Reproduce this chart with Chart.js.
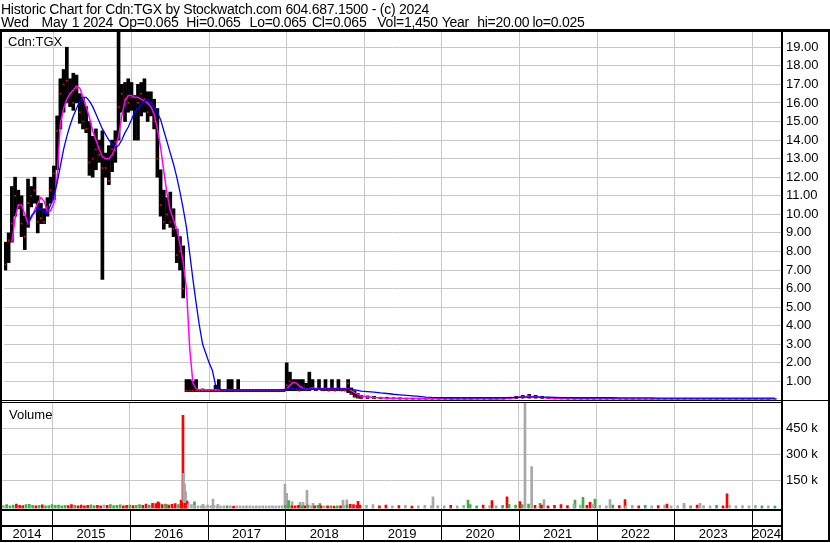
<!DOCTYPE html>
<html>
<head>
<meta charset="utf-8">
<script src="https://cdn.jsdelivr.net/npm/chart.js@4.4.1/dist/chart.umd.min.js"></script>
<style>
  body { margin: 0; background: #fff; }
  #wrap { position: relative; width: 830px; height: 543px; overflow: hidden; font-family: 'Liberation Sans', Arial, sans-serif; }
  canvas { position: absolute; left: 0; top: 0; }
  .txt { position: absolute; white-space: pre; color: #000; }
  .hdr { font-size: 14px; line-height: 16px; letter-spacing: -0.25px; }
  .hdr span { position: absolute; top: 0; }
  .lbl { font-size: 13px; line-height: 15px; }
</style>
</head>
<body>
<div id="wrap">
  <canvas id="priceChart" width="830" height="543"></canvas>
  <canvas id="volChart" width="830" height="543"></canvas>
  <div class="txt hdr" style="top:1px; left:1px">Historic Chart for Cdn:TGX by Stockwatch.com 604.687.1500 - (c) 2024</div>
  <div class="txt hdr" style="top:14px; left:0; width:830px; height:16px">
    <span style="left:1px">Wed</span><span style="left:41.6px">May</span><span style="left:71.8px">1</span><span style="left:83px">2024</span><span style="left:118.6px">Op=0.065</span><span style="left:186.2px">Hi=0.065</span><span style="left:249.6px">Lo=0.065</span><span style="left:312px">Cl=0.065</span><span style="left:377.3px">Vol=1,450</span><span style="left:441.7px">Year</span><span style="left:477.2px">hi=20.00</span><span style="left:532.4px">lo=0.025</span>
  </div>
  <div class="txt lbl" style="left:8px; top:34px">Cdn:TGX</div>
  <div class="txt lbl" style="left:9px; top:407px">Volume</div>
</div>
<script>
// x axis: years
const years = ['2014', '2015', '2016', '2017', '2018', '2019', '2020', '2021', '2022', '2023', '2024'];
const priceTicks = [1, 2, 3, 4, 5, 6, 7, 8, 9, 10, 11, 12, 13, 14, 15, 16, 17, 18, 19];
const volTicks = [150, 300, 450];

// half-month bars, May 2014 - Dec 2018
const halfMonthHigh = [
  8.5, 9.0, 11.5, 12.0, 11.3, 11.0, 9.9, 11.9, 11.5, 12.0,
  11.0, 10.6, 10.3, 10.9, 12.0, 12.6, 15.3, 17.3, 17.8, 19.0,
  17.3, 17.6, 17.5, 16.5, 16.3, 15.8, 15.0, 14.2, 14.6, 14.0,
  14.5, 13.3, 13.7, 14.0, 14.5, 19.85, 17.0, 17.1, 17.3, 17.1,
  16.4, 17.0, 17.1, 17.3, 16.6, 16.6, 16.2, 15.7, 12.4, 11.3,
  10.9, 11.2, 10.3, 9.2, 8.8, 8.3, 1.1, 1.1, 1.0, 1.1,
  0.55, 0.6, 0.55, 0.55, 0.55, 0.8, 1.1, 0.55, 0.55, 1.1,
  1.1, 0.55, 1.1, 0.55, 0.55, 0.55, 0.55, 0.55, 0.55, 0.55,
  0.55, 0.55, 0.55, 0.55, 0.55, 0.55, 0.55, 2.0, 1.5, 1.1,
  1.1, 1.1, 1.1, 0.9, 1.5, 1.1, 0.6, 1.1, 0.6, 1.1,
  0.6, 1.1, 0.6, 1.1, 0.6, 0.6, 1.1, 0.65, 0.5, 0.35, 0.25
];
const halfMonthLow = [
  7.0, 7.4, 8.5, 9.9, 10.3, 8.8, 8.1, 9.3, 10.4, 10.6,
  9.0, 9.5, 9.5, 9.9, 10.6, 10.8, 12.4, 14.6, 15.5, 16.0,
  15.8, 15.6, 16.0, 14.9, 14.6, 14.4, 12.1, 12.0, 12.4, 12.8,
  6.5, 12.0, 11.6, 12.3, 12.8, 14.0, 15.5, 15.0, 15.5, 15.6,
  14.0, 14.0, 15.3, 15.5, 15.0, 15.3, 14.6, 12.0, 9.9, 9.2,
  9.5, 9.3, 8.8, 7.4, 7.0, 5.5, 0.45, 0.45, 0.45, 0.45,
  0.45, 0.45, 0.45, 0.45, 0.45, 0.45, 0.45, 0.45, 0.45, 0.45,
  0.45, 0.45, 0.45, 0.45, 0.45, 0.45, 0.45, 0.45, 0.45, 0.45,
  0.45, 0.45, 0.45, 0.45, 0.45, 0.45, 0.45, 0.5, 0.5, 0.5,
  0.5, 0.5, 0.5, 0.5, 0.5, 0.55, 0.5, 0.55, 0.5, 0.5,
  0.5, 0.5, 0.5, 0.5, 0.5, 0.5, 0.4, 0.3, 0.15, 0.1, 0.08
];
const halfMonthClose = [
  7.3, 8.6, 9.5, 11.0, 10.5, 9.5, 8.8, 10.6, 11.0, 11.3,
  9.6, 9.8, 9.6, 10.4, 11.3, 12.2, 14.5, 16.5, 17.0, 17.2,
  16.5, 16.0, 16.8, 15.5, 15.0, 14.6, 12.8, 13.0, 13.5, 13.2,
  12.5, 12.5, 11.8, 13.5, 13.9, 15.8, 16.5, 16.2, 16.0, 16.3,
  15.5, 16.0, 16.5, 16.2, 15.5, 16.0, 15.0, 13.0, 10.5, 9.6,
  10.0, 9.6, 9.2, 7.8, 8.0, 6.0, 0.5, 0.5, 0.5, 0.5,
  0.5, 0.5, 0.5, 0.5, 0.5, 0.5, 0.5, 0.5, 0.5, 0.55,
  0.55, 0.5, 0.5, 0.5, 0.5, 0.5, 0.5, 0.5, 0.5, 0.5,
  0.5, 0.5, 0.5, 0.5, 0.5, 0.5, 0.5, 0.8, 1.0, 0.6,
  0.55, 0.5, 0.6, 0.55, 0.6, 0.6, 0.55, 0.6, 0.55, 0.55,
  0.5, 0.55, 0.5, 0.55, 0.5, 0.5, 0.9, 0.35, 0.2, 0.15, 0.1
];
const halfMonthMaFast = [
  null, null, 8.5, 9.8, 10.5, 10.5, 10.0, 9.5, 9.8, 10.2,
  10.6, 10.9, 10.7, 10.1, 10.2, 10.6, 12.0, 14.9, 15.7, 16.2,
  16.5, 16.7, 16.9, 16.8, 16.3, 15.8, 15.2, 14.5, 14.0, 13.5,
  13.1, 13.0, 13.0, 13.2, 13.6, 14.2, 15.3, 16.1, 16.4, 16.4,
  16.3, 16.3, 16.2, 16.1, 16.0, 15.8, 15.4, 14.6, 13.6, 12.3,
  11.1, 10.2, 9.7, 9.2, 8.4, 7.4, 6.0, 2.8, 0.9, 0.6,
  0.55, 0.55, 0.55, 0.55, 0.55, 0.55, 0.55, 0.55, 0.55, 0.55,
  0.55, 0.55, 0.55, 0.55, 0.55, 0.55, 0.55, 0.55, 0.55, 0.55,
  0.55, 0.55, 0.55, 0.55, 0.55, 0.55, 0.55, 0.6, 0.8, 0.95,
  0.9, 0.75, 0.65, 0.6, 0.62, 0.65, 0.62, 0.62, 0.62, 0.62,
  0.62, 0.62, 0.62, 0.62, 0.62, 0.62, 0.6, 0.5, 0.4, 0.3, 0.22
];
const halfMonthMaSlow = [
  null, null, null, null, null, null, null, 9.5, 9.9, 10.1,
  10.3, 10.3, 10.1, 10.1, 10.5, 11.0, 11.7, 12.6, 13.5, 14.2,
  14.8, 15.3, 15.7, 16.1, 16.3, 16.3, 16.1, 15.8, 15.4, 15.0,
  14.6, 14.3, 14.0, 13.8, 13.6, 13.7, 14.0, 14.4, 14.7, 15.1,
  15.5, 15.7, 15.9, 16.1, 16.2, 16.0, 15.8, 15.5, 15.1, 14.5,
  13.9, 13.3, 12.7, 12.0, 11.2, 10.3, 9.3, 7.9, 6.5, 5.2,
  4.0, 3.0, 2.5, 2.0, 1.6, 0.8, 0.6, 0.55, 0.55, 0.55,
  0.55, 0.55, 0.55, 0.55, 0.55, 0.55, 0.55, 0.55, 0.55, 0.55,
  0.55, 0.55, 0.55, 0.55, 0.55, 0.55, 0.55, 0.6, 0.6, 0.6,
  0.6, 0.6, 0.6, 0.6, 0.6, 0.6, 0.6, 0.6, 0.6, 0.6,
  0.6, 0.6, 0.6, 0.6, 0.6, 0.6, 0.58, 0.57, 0.55, 0.52, 0.48
];
const halfMonthVol = [
  8, 12, 6, 10, 15, 9, 7, 12, 14, 8,
  6, 9, 11, 5, 7, 12, 8, 10, 6, 9,
  7, 12, 8, 6, 10, 5, 8, 11, 7, 9,
  6, 10, 8, 12, 7, 9, 11, 6, 8, 10,
  7, 9, 12, 8, 15, 10, 20, 18, 22, 12,
  15, 10, 14, 18, 12, 25, 20, 15, 12, 8,
  5, 6, 4, 10, 5, 8, 6, 4, 5, 6,
  5, 4, 6, 5, 4, 5, 6, 4, 5, 4,
  5, 4, 6, 5, 4, 5, 6, 8, 10, 6,
  5, 8, 6, 5, 10, 6, 5, 8, 5, 6,
  5, 6, 4, 5, 6, 5, 10, 14, 12, 8, 10
];

// monthly bars, Jan 2019 - Apr 2024
const monthHigh = [
  0.22, 0.2, 0.15, 0.15, 0.12, 0.12, 0.1, 0.1, 0.1, 0.1, 0.09, 0.09,
  0.1, 0.09, 0.08, 0.08, 0.09, 0.1, 0.09, 0.08, 0.09, 0.12, 0.15, 0.2,
  0.25, 0.3, 0.25, 0.2, 0.15, 0.12, 0.12, 0.1, 0.1, 0.1, 0.09, 0.09,
  0.09, 0.09, 0.1, 0.09, 0.08, 0.09, 0.08, 0.08, 0.09, 0.08, 0.08, 0.08,
  0.08, 0.08, 0.09, 0.08, 0.08, 0.08, 0.09, 0.08, 0.08, 0.08, 0.08, 0.08,
  0.08, 0.08, 0.07, 0.07
];
const monthLow = [
  0.08, 0.07, 0.07, 0.06, 0.06, 0.05, 0.05, 0.05, 0.05, 0.05, 0.05, 0.05,
  0.05, 0.04, 0.04, 0.04, 0.04, 0.05, 0.05, 0.04, 0.05, 0.05, 0.06, 0.08,
  0.1, 0.1, 0.1, 0.08, 0.07, 0.06, 0.06, 0.05, 0.05, 0.05, 0.05, 0.05,
  0.05, 0.05, 0.05, 0.05, 0.04, 0.04, 0.04, 0.04, 0.04, 0.04, 0.04, 0.04,
  0.04, 0.04, 0.04, 0.04, 0.04, 0.03, 0.03, 0.04, 0.04, 0.04, 0.03, 0.03,
  0.03, 0.03, 0.025, 0.05
];
const monthClose = [
  0.1, 0.1, 0.09, 0.08, 0.08, 0.07, 0.07, 0.06, 0.06, 0.06, 0.06, 0.06,
  0.06, 0.05, 0.05, 0.05, 0.06, 0.07, 0.06, 0.06, 0.06, 0.08, 0.1, 0.14,
  0.18, 0.2, 0.15, 0.12, 0.1, 0.09, 0.08, 0.07, 0.07, 0.07, 0.06, 0.06,
  0.06, 0.06, 0.07, 0.06, 0.06, 0.06, 0.05, 0.06, 0.06, 0.05, 0.05, 0.05,
  0.05, 0.05, 0.06, 0.05, 0.05, 0.05, 0.06, 0.05, 0.05, 0.05, 0.05, 0.05,
  0.05, 0.06, 0.06, 0.065
];
const monthMaFast = [
  0.18, 0.14, 0.12, 0.1, 0.09, 0.09, 0.08, 0.08, 0.07, 0.07, 0.07, 0.07,
  0.07, 0.06, 0.06, 0.06, 0.06, 0.07, 0.07, 0.06, 0.06, 0.07, 0.1, 0.14,
  0.18, 0.2, 0.18, 0.14, 0.11, 0.09, 0.08, 0.08, 0.07, 0.07, 0.07, 0.07,
  0.07, 0.07, 0.07, 0.07, 0.06, 0.06, 0.06, 0.06, 0.06, 0.06, 0.06, 0.06,
  0.06, 0.06, 0.06, 0.06, 0.06, 0.05, 0.05, 0.06, 0.06, 0.06, 0.06, 0.06,
  0.06, 0.06, 0.06, 0.065
];
const monthMaSlow = [
  0.45, 0.42, 0.38, 0.35, 0.31, 0.28, 0.25, 0.22, 0.19, 0.16, 0.14, 0.13,
  0.12, 0.12, 0.12, 0.12, 0.12, 0.12, 0.12, 0.12, 0.12, 0.12, 0.13, 0.14,
  0.15, 0.16, 0.16, 0.16, 0.15, 0.14, 0.13, 0.13, 0.12, 0.12, 0.12, 0.12,
  0.12, 0.12, 0.12, 0.11, 0.11, 0.11, 0.11, 0.11, 0.11, 0.1, 0.1, 0.1,
  0.1, 0.1, 0.1, 0.1, 0.1, 0.1, 0.1, 0.1, 0.1, 0.1, 0.1, 0.1,
  0.1, 0.1, 0.1, 0.1
];
const monthVol = [
  8, 12, 6, 10, 5, 7, 9, 4, 6, 8, 5, 7,
  6, 9, 5, 8, 12, 6, 10, 7, 5, 9, 14, 10,
  12, 15, 8, 10, 6, 9, 12, 7, 15, 10, 8, 12,
  9, 6, 10, 7, 5, 8, 6, 9, 5, 7, 10, 6,
  5, 8, 6, 10, 7, 5, 9, 6, 8, 5, 7, 6,
  8, 5, 6, 4
];

// single heavy volume days (thousands), u = up, d = down, n = unchanged
const spikeDates = [
  2016.362, 2016.465, 2016.658, 2016.683, 2016.691, 2016.704, 2016.717, 2016.730, 2016.739, 2016.831,
  2016.940, 2017.069, 2017.133, 2017.994, 2018.016, 2018.042, 2018.085, 2018.187, 2018.226, 2018.277,
  2018.354, 2018.444, 2018.740, 2018.790, 2018.933, 2019.897, 2020.347, 2020.655, 2020.848, 2021.015,
  2021.079, 2021.165, 2021.272, 2021.323, 2021.722, 2021.825, 2021.915, 2021.979, 2022.172, 2022.365,
  2022.905, 2023.123, 2023.329, 2023.676
];
const spikeVol = [
  28, 14, 39, 527, 193, 131, 87, 39, 30, 28,
  14, 45, 14, 131, 78, 35, 30, 25, 25, 95,
  20, 18, 39, 40, 32, 58, 39, 36, 57, 30,
  800, 232, 20, 42, 38, 55, 25, 45, 42, 42,
  15, 20, 20, 75
];
const spikeDir = [
  'd', 'd', 'd', 'd', 'n', 'n', 'n', 'n', 'd', 'u',
  'n', 'n', 'n', 'n', 'n', 'u', 'n', 'n', 'n', 'n',
  'n', 'u', 'n', 'n', 'd', 'n', 'u', 'd', 'd', 'd',
  'n', 'n', 'u', 'n', 'u', 'u', 'd', 'u', 'n', 'd',
  'd', 'n', 'n', 'd'
];

const high = halfMonthHigh.concat(monthHigh);
const low = halfMonthLow.concat(monthLow);
const close = halfMonthClose.concat(monthClose);
const maFast = halfMonthMaFast.concat(monthMaFast);
const maSlow = halfMonthMaSlow.concat(monthMaSlow);
const vol = halfMonthVol.concat(monthVol);
const dates = halfMonthHigh.map((_, i) => 2014.375 + i / 24)
  .concat(monthHigh.map((_, m) => 2019 + (m + 0.5) / 12));

const xMin = 2014.357, xMax = 2024.37;
const gridColor = '#c8c8c8';
const dirColor = { u: '#3cb043', d: '#ff0000', n: '#a8a8a8' };

Chart.defaults.font.family = "'Liberation Sans', Arial, sans-serif";
Chart.defaults.font.size = 13;
Chart.defaults.color = '#000';

function timeAxis() {
  return {
    type: 'linear', min: xMin, max: xMax, offset: false,
    afterBuildTicks: s => { s.ticks = years.slice(1).map(y => ({ value: Number(y) })); },
    afterFit: s => { s.height = 0; },
    ticks: { display: false },
    grid: { color: gridColor, drawTicks: false, offset: false },
    border: { display: false }
  };
}

const common = {
  responsive: false,
  animation: false,
  devicePixelRatio: 1,
  plugins: { legend: { display: false }, tooltip: { enabled: false } }
};

new Chart(document.getElementById('priceChart'), {
  type: 'bar',
  data: {
    datasets: [
      {
        type: 'line', data: dates.map((t, i) => ({ x: t, y: maSlow[i] })),
        borderColor: '#0000ff', borderWidth: 1.3, pointRadius: 0, tension: 0, order: 0
      },
      {
        type: 'line', data: dates.map((t, i) => ({ x: t, y: maFast[i] })),
        borderColor: '#ff00ff', borderWidth: 1.5, pointRadius: 0, tension: 0, order: 1
      },
      {
        type: 'line', data: dates.map((t, i) => ({ x: t, y: close[i] })),
        showLine: false, pointStyle: 'rect', pointRadius: 1.2, pointBorderWidth: 0,
        pointBackgroundColor: '#ff0000', order: 2
      },
      {
        data: dates.map((t, i) => ({ x: t, y: [low[i], high[i]] })),
        backgroundColor: '#000', barThickness: 3, order: 3
      }
    ]
  },
  options: {
    ...common,
    layout: { padding: { left: 2, right: 2, top: 32, bottom: 143 } },
    scales: {
      x: timeAxis(),
      y: {
        position: 'right', min: 0, max: 19.82,
        afterBuildTicks: s => { s.ticks = priceTicks.map(v => ({ value: v })); },
        afterFit: s => { s.width = 47; },
        ticks: { padding: 5, callback: v => v.toFixed(2) },
        grid: { color: gridColor, drawTicks: false },
        border: { display: false }
      }
    }
  }
});

// frame, axis rows and year labels
const framePlugin = {
  id: 'frame',
  afterDraw(chart) {
    const ctx = chart.ctx, xs = chart.scales.x, a = chart.chartArea;
    ctx.save();
    ctx.fillStyle = '#000';
    ctx.fillRect(0, 29, 830, 3);
    ctx.fillRect(0, 29, 2, 513);
    ctx.fillRect(828, 29, 2, 513);
    ctx.fillRect(a.right, 29, 2, 513);
    ctx.fillRect(0, 400, 830, 1);
    ctx.fillRect(0, 402, a.right, 1);
    ctx.fillRect(0, 509, a.right, 2);
    ctx.fillRect(0, 525, a.right, 2);
    ctx.fillRect(0, 540, 830, 2);
    ctx.font = "13px 'Liberation Sans', Arial, sans-serif";
    ctx.textAlign = 'center';
    ctx.textBaseline = 'middle';
    years.forEach((y, i) => {
      const start = Number(y);
      const x0 = Math.max(a.left, xs.getPixelForValue(start));
      const x1 = Math.min(a.right, xs.getPixelForValue(start + 1));
      if (i > 0) ctx.fillRect(Math.round(x0), 510, 1, 31);
      ctx.fillText(y, (x0 + x1) / 2, 534.5);
    });
    ctx.restore();
  }
};

new Chart(document.getElementById('volChart'), {
  type: 'bar',
  data: {
    datasets: [
      {
        data: dates.map((t, i) => ({ x: t, y: vol[i] })),
        backgroundColor: close.map((c, i) =>
          i === 0 || c === close[i - 1] ? dirColor.n : (c > close[i - 1] ? dirColor.u : dirColor.d)),
        barThickness: 2, base: -10
      },
      {
        data: spikeDates.map((t, i) => ({ x: t, y: spikeVol[i] })),
        backgroundColor: spikeDir.map(d => dirColor[d]),
        barThickness: 2, base: -10
      }
    ]
  },
  options: {
    ...common,
    datasets: { bar: { grouped: false } },
    layout: { padding: { left: 2, right: 2, top: 403, bottom: 34.5 } },
    scales: {
      x: timeAxis(),
      y: {
        position: 'right', min: -10, max: 598.6,
        afterBuildTicks: s => { s.ticks = volTicks.map(v => ({ value: v })); },
        afterFit: s => { s.width = 47; },
        ticks: { padding: 5, callback: v => v + ' k' },
        grid: { color: gridColor, drawTicks: false },
        border: { display: false }
      }
    }
  },
  plugins: [framePlugin]
});
</script>
</body>
</html>
